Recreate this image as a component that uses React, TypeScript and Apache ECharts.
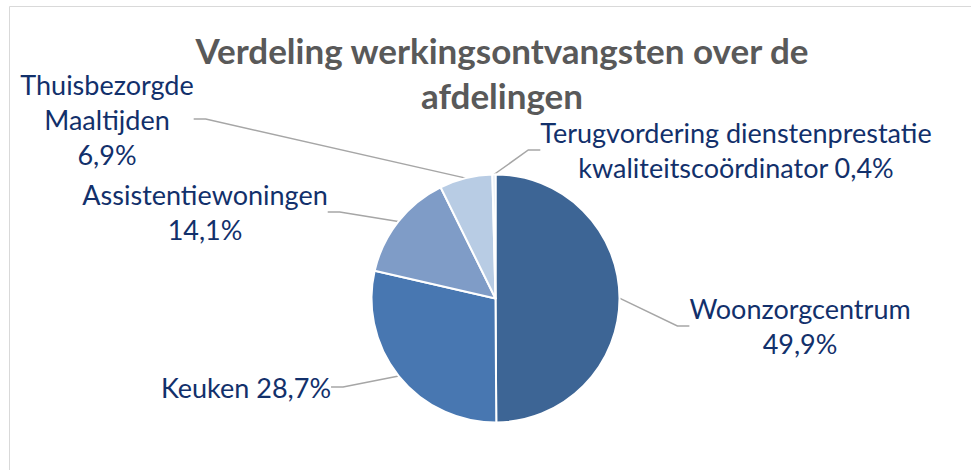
import React, { useEffect, useRef } from "react";
import * as echarts from "echarts";

const categories = [
  "Woonzorgcentrum",
  "Keuken",
  "Assistentiewoningen",
  "Thuisbezorgde Maaltijden",
  "Terugvordering dienstenprestatie kwaliteitscoördinator",
];
const values = [49.9, 28.7, 14.1, 6.9, 0.4];
const labelTexts = [
  "Woonzorgcentrum\n49,9%",
  "Keuken 28,7%",
  "Assistentiewoningen\n14,1%",
  "Thuisbezorgde\nMaaltijden\n6,9%",
  "Terugvordering dienstenprestatie\nkwaliteitscoördinator 0,4%",
];
const colors = ["#3d6595", "#4877b1", "#7f9cc7", "#b8cce4", "#dce6f2"];
const labelCenters: [number, number][] = [
  [800, 326],
  [246, 387],
  [205, 212],
  [107, 119],
  [736, 150],
];

export default function App() {
  const ref = useRef<HTMLDivElement>(null);
  useEffect(() => {
    if (!ref.current) return;
    const chart = echarts.init(ref.current, null, { renderer: "svg" });
    const font = "Lato, 'Noto Sans', sans-serif";
    chart.setOption({
      animation: false,
      backgroundColor: "#ffffff",
      title: {
        text: "Verdeling werkingsontvangsten over de\nafdelingen",
        left: 497,
        top: 22,
        textAlign: "center",
        textStyle: {
          fontFamily: font,
          fontWeight: "bold",
          fontSize: 35,
          color: "#595959",
          lineHeight: 45,
        },
      },
      graphic: [
        {
          type: "rect",
          shape: { x: 9.5, y: 6.5, width: 1000, height: 1000 },
          style: { fill: "none", stroke: "#d9d9d9", lineWidth: 1 },
          silent: true,
        },
      ],
      series: [
        {
          type: "pie",
          center: [495.5, 298.5],
          radius: 124,
          startAngle: 90,
          clockwise: true,
          data: categories.map((name, i) => ({
            name,
            value: values[i],
            itemStyle: { color: colors[i] },
          })),
          itemStyle: { borderColor: "#ffffff", borderWidth: 2 },
          label: {
            show: true,
            formatter: (p: any) => labelTexts[p.dataIndex],
            fontFamily: font,
            fontSize: 27,
            lineHeight: 35,
            color: "#12306b",
            align: "center",
            overflow: "none",
          },
          labelLine: {
            show: true,
            length: 20,
            length2: 12,
            lineStyle: { color: "#a6a6a6", width: 1.5 },
          },
          labelLayout: (p: any) => {
            const c = labelCenters[p.dataIndex];
            return {
              x: c[0],
              y: c[1],
              align: "center",
              verticalAlign: "middle",
            };
          },
        },
      ],
    });
    return () => chart.dispose();
  }, []);
  return (
    <div
      ref={ref}
      style={{ position: "fixed", left: 0, top: 0, width: 971, height: 470 }}
    />
  );
}
